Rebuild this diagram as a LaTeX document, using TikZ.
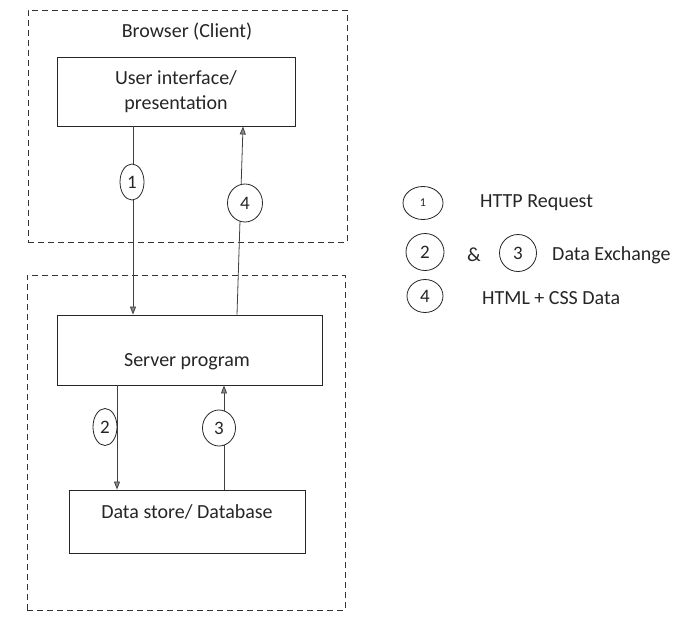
\documentclass[tikz,border=0pt]{standalone}
\usepackage{fontspec}
\setmainfont{Carlito}
\usetikzlibrary{shapes.geometric,arrows.meta}
\begin{document}
\begin{tikzpicture}[x=1pt,y=-1pt,
  zone/.style={draw=black!80, dash pattern=on 6pt off 4pt, line width=0.8pt, inner sep=0pt},
  box/.style={draw=black!85, line width=0.9pt, inner sep=0pt},
  lbl/.style={font=\fontsize{20}{25}\selectfont, text=black!85, inner sep=0pt},
  num/.style={ellipse, draw=black!85, line width=0.8pt, fill=white, inner sep=0pt, text=black!85, font=\fontsize{19}{22}\selectfont},
  arr/.style={draw=black!75, line width=0.8pt, -{Triangle[length=8pt,width=6pt,fill=black!45]}}
]
\useasboundingbox[fill=white] (0,0) rectangle (682,616);

% zones
\node[zone, minimum width=319pt, minimum height=232pt] (client) at (187.5,126) {};
\node[zone, minimum width=318pt, minimum height=335pt] (serverzone) at (186,442.5) {};
\node[lbl] (clientlbl) at (187,32) {Browser (Client)};

% boxes
\node[box, lbl, minimum width=238pt, minimum height=69pt, align=center] (ui) at (176,91.5) {User interface/\\presentation};
\node[box, minimum width=265pt, minimum height=70pt] (server) at (189.5,350) {};
\node[lbl] (servertxt) at (187,362) {Server program};
\node[box, minimum width=236pt, minimum height=63pt] (data) at (187,521.5) {};
\node[lbl] (datatxt) at (187,512) {Data store/ Database};

% connector x positions
\coordinate (xa) at (133,0);
\coordinate (xb1) at (237,0);
\coordinate (xb2) at (243,0);
\coordinate (xc) at (117,0);
\coordinate (xd) at (224,0);

\draw[arr] (ui.south -| xa) -- (server.north -| xa);
\draw[arr] (server.north -| xb1) -- (ui.south -| xb2);
\draw[arr] (server.south -| xc) -- (data.north -| xc);
\draw[arr] (data.north -| xd) -- (server.south -| xd);

% step markers
\node[num, minimum width=24pt, minimum height=36pt] (n1) at (132,182) {1};
\node[num, minimum width=35pt, minimum height=38pt] (n4) at (245,203) {4};
\node[num, minimum width=24pt, minimum height=37pt] (n2) at (105,427) {2};
\node[num, minimum width=33pt, minimum height=36pt] (n3) at (219,428) {3};

% legend
\node[num, minimum width=40pt, minimum height=33pt, font=\fontsize{12}{14}\selectfont] (k1) at (423,203) {1};
\node[lbl, anchor=west] (k1t) at (480,203) {HTTP Request};
\node[num, minimum width=38pt, minimum height=37pt] (k2) at (425,252) {2};
\node[lbl] (amp) at (474,255) {\&};
\node[num, minimum width=37pt, minimum height=37pt] (k3) at (518,253) {3};
\node[lbl, anchor=west] (k3t) at (552,255) {Data Exchange};
\node[num, minimum width=36pt, minimum height=33pt] (k4) at (425,296) {4};
\node[lbl, anchor=west] (k4t) at (482,298) {HTML + CSS Data};
\end{tikzpicture}
\end{document}
